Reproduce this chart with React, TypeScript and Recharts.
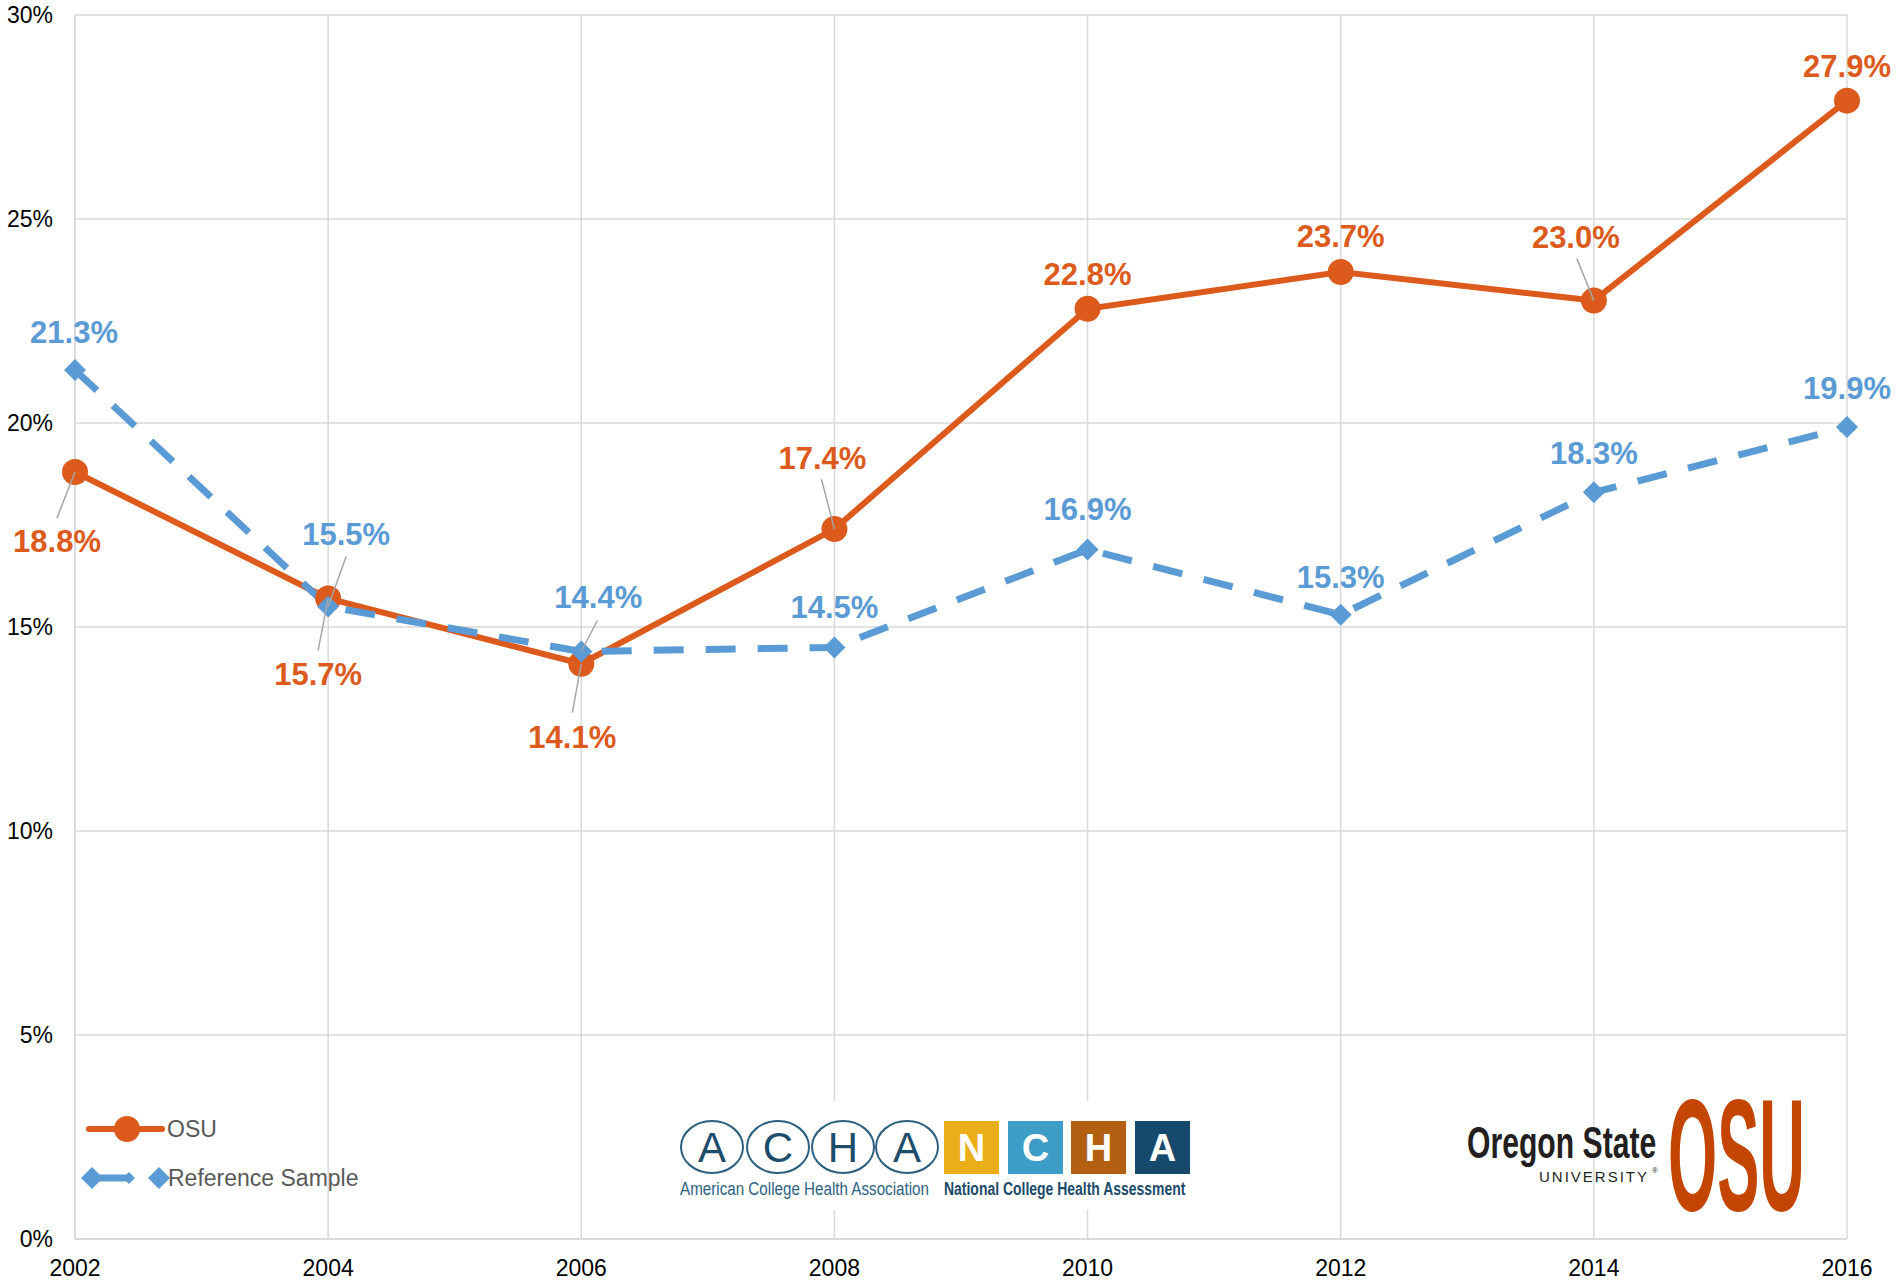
import { LineChart, Line, XAxis, YAxis, CartesianGrid, Legend, LabelList } from 'recharts'

const years = [2002, 2004, 2006, 2008, 2010, 2012, 2014, 2016]
const osu = [18.8, 15.7, 14.1, 17.4, 22.8, 23.7, 23.0, 27.9]
const reference = [21.3, 15.5, 14.4, 14.5, 16.9, 15.3, 18.3, 19.9]
const yTicks = [0, 5, 10, 15, 20, 25, 30]

const data = years.map((year, i) => ({ year, osu: osu[i], reference: reference[i] }))

const ORANGE = '#DC5A1C'
const BLUE = '#5B9BD5'
const GRID = '#d9d9d9'
const FONT = '"Liberation Sans", Arial, sans-serif'

// where each data label sits relative to its point, plus optional leader line start
const osuLabelPos = [[-18, 69], [-10, 76], [-9, 73], [-12, -71], [0, -35], [0, -36], [-18, -63], [0, -35]]
const osuLeaders = [[-18, 46], [-10, 52], [-9, 49], [-13, -50], null, null, [-17, -42], null]
const refLabelPos = [[-1, -38], [18, -72], [17, -54], [0, -40], [0, -40], [0, -38], [0, -39], [0, -39]]
const refLeaders = [null, [18, -50], [16, -31], null, null, null, null, null]

const makeLabel = (color: string, pos: number[][], leaders: (number[] | null)[]) => (props: any) => {
  const { x, y, value, index } = props
  const [dx, dy] = pos[index]
  const lead = leaders[index]
  return (
    <g key={`lbl-${index}`}>
      {lead && (
        <line x1={x + lead[0]} y1={y + lead[1]} x2={x} y2={y} stroke="#a6a6a6" strokeWidth={1.5} />
      )}
      <text x={x + dx} y={y + dy} dy="0.35em" textAnchor="middle" fill={color}
        fontSize={31} fontWeight="bold" fontFamily={FONT}>
        {Number(value).toFixed(1)}%
      </text>
    </g>
  )
}

const diamondPath = (cx: number, cy: number, s: number) =>
  `M${cx},${cy - s}L${cx + s},${cy}L${cx},${cy + s}L${cx - s},${cy}Z`

const Diamond = (props: any) => {
  const { cx, cy, index } = props
  return <path key={`d-${index}`} d={diamondPath(cx, cy, 11)} fill={BLUE} />
}

const XTick = ({ x, y, payload }: any) => (
  <text x={x} y={y + 29} dy="0.35em" textAnchor="middle" fontSize={23} fill="#000" fontFamily={FONT}>
    {payload.value}
  </text>
)

const YTick = ({ x, y, payload }: any) => (
  <text x={x - 22} y={y} dy="0.35em" textAnchor="end" fontSize={23} fill="#000" fontFamily={FONT}>
    {payload.value}%
  </text>
)

const renderLegend = () => (
  <svg width={340} height={100} style={{ display: 'block', overflow: 'visible' }}>
    <line x1={89} y1={29} x2={162} y2={29} stroke={ORANGE} strokeWidth={6} strokeLinecap="round" />
    <circle cx={127} cy={29} r={13} fill={ORANGE} />
    <text x={167} y={29} dy="0.35em" fontSize={23} fill="#595959" fontFamily={FONT}>OSU</text>
    <line x1={92} y1={78} x2={128} y2={78} stroke={BLUE} strokeWidth={7} />
    <path d={diamondPath(92, 78, 11)} fill={BLUE} />
    <path d={diamondPath(129, 78, 6)} fill={BLUE} />
    <path d={diamondPath(159, 78, 11)} fill={BLUE} />
    <text x={168} y={78} dy="0.35em" fontSize={23} fill="#595959" fontFamily={FONT}>Reference Sample</text>
  </svg>
)

// condensed logo lettering: squeeze horizontally with a transform
const Narrow = ({ x, y, sx, children, ...rest }: any) => (
  <text transform={`translate(${x},${y}) scale(${sx},1)`} x={0} y={0} fontFamily={FONT} {...rest}>
    {children}
  </text>
)

const Logos = () => (
  <svg width={1899} height={1282} style={{ position: 'absolute', left: 0, top: 0, pointerEvents: 'none' }}>
    {/* ACHA / NCHA */}
    <rect x={673} y={1101} width={522} height={109} fill="#fff" />
    {[['A', 712], ['C', 778], ['H', 843], ['A', 907]].map(([ch, cx], i) => (
      <g key={i}>
        <ellipse cx={cx as number} cy={1147} rx={31} ry={26} fill="none" stroke="#2B5F7F" strokeWidth={2} />
        <text x={cx as number} y={1162} textAnchor="middle" fontSize={42} fill="#1E4D6B" fontFamily={FONT}>{ch}</text>
      </g>
    ))}
    {[['N', 944, '#E9AE18'], ['C', 1008, '#3C9DC6'], ['H', 1071, '#B35F12'], ['A', 1135, '#164A6C']].map(([ch, x, c], i) => (
      <g key={i}>
        <rect x={x as number} y={1121} width={55} height={53} fill={c as string} />
        <text x={(x as number) + 27.5} y={1161} textAnchor="middle" fontSize={38} fontWeight="bold" fill="#fff" fontFamily={FONT}>{ch}</text>
      </g>
    ))}
    <Narrow x={680} y={1195} sx={0.8} fontSize={19} fill="#2E6384">American College Health Association</Narrow>
    <Narrow x={944} y={1195} sx={0.735} fontSize={19} fontWeight="bold" fill="#1B4A6B">National College Health Assessment</Narrow>
    {/* Oregon State University */}
    <Narrow x={1467} y={1158} sx={0.67} fontSize={45} fontWeight="bold" fill="#231F20">Oregon State</Narrow>
    <text x={1539} y={1182} fontSize={15} fill="#231F20" fontFamily={FONT} letterSpacing={2}>UNIVERSITY</text>
    <text x={1652} y={1173} fontSize={8} fill="#231F20" fontFamily={FONT}>®</text>
    <Narrow x={1668} y={1210} sx={0.395} fontSize={160} fontWeight="bold" fill="#C34500">OSU</Narrow>
  </svg>
)

export default function App() {
  return (
    <div style={{ position: 'absolute', left: 0, top: 0, width: 1899, height: 1282, background: '#fff' }}>
      <LineChart width={1899} height={1282} data={data} margin={{ top: 15, right: 52, left: 0, bottom: 0 }}>
        <CartesianGrid stroke={GRID} strokeWidth={1.5} />
        <XAxis dataKey="year" type="number" domain={[2002, 2016]} ticks={years} height={43}
          axisLine={{ stroke: GRID, strokeWidth: 1.5 }} tickLine={false} tickSize={0} tickMargin={0}
          tick={<XTick />} interval={0} />
        <YAxis domain={[0, 30]} ticks={yTicks} width={75}
          axisLine={{ stroke: GRID, strokeWidth: 1.5 }} tickLine={false} tickSize={0} tickMargin={0}
          tick={<YTick />} interval={0} />
        <Legend layout="vertical" align="center" verticalAlign="middle" content={renderLegend}
          wrapperStyle={{ position: 'absolute', left: 0, top: 1100, width: 340, height: 100 }} />
        <Line dataKey="osu" name="OSU" stroke={ORANGE} strokeWidth={6} isAnimationActive={false}
          dot={{ r: 13, fill: ORANGE, stroke: 'none', strokeWidth: 0 }} activeDot={false}>
          <LabelList dataKey="osu" content={makeLabel(ORANGE, osuLabelPos, osuLeaders)} />
        </Line>
        <Line dataKey="reference" name="Reference Sample" stroke={BLUE} strokeWidth={7}
          strokeDasharray="30 22" isAnimationActive={false} dot={<Diamond />} activeDot={false}>
          <LabelList dataKey="reference" content={makeLabel(BLUE, refLabelPos, refLeaders)} />
        </Line>
      </LineChart>
      <Logos />
    </div>
  )
}
